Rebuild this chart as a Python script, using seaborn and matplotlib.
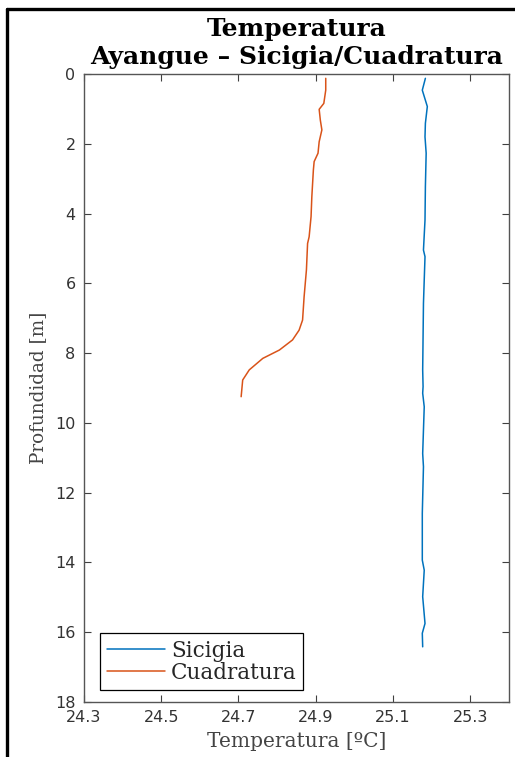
import numpy as np
import pandas as pd
import matplotlib
matplotlib.use("Agg")
import matplotlib.pyplot as plt
import seaborn as sns
from matplotlib.lines import Line2D

# Sicigia profile (depth [m], temperature [ºC])
sicigia_depth = [0.11, 0.45, 0.92, 1.40, 1.79, 2.26, 3.22, 4.18, 5.04, 5.23, 6.57,
                 8.48, 8.96, 9.15, 9.54, 10.88, 11.26, 12.60, 13.94, 14.23, 14.99,
                 15.76, 16.04, 16.43]
sicigia_temp = [25.184, 25.176, 25.189, 25.184, 25.183, 25.186, 25.184, 25.183, 25.179,
                25.183, 25.179, 25.177, 25.178, 25.177, 25.181, 25.177, 25.179, 25.176,
                25.176, 25.181, 25.177, 25.183, 25.176, 25.177]

# Cuadratura profile
cuadratura_depth = [0.11, 0.45, 0.83, 1.00, 1.31, 1.59, 1.93, 2.26, 2.50, 2.74, 3.51,
                    4.08, 4.66, 4.85, 5.61, 6.38, 7.05, 7.34, 7.62, 7.91, 8.15, 8.48,
                    8.77, 9.25]
cuadratura_temp = [24.926, 24.926, 24.921, 24.909, 24.912, 24.916, 24.909, 24.906, 24.896,
                   24.894, 24.890, 24.888, 24.883, 24.879, 24.876, 24.870, 24.866, 24.857,
                   24.840, 24.806, 24.763, 24.728, 24.711, 24.707]

x_ticks = [24.3, 24.5, 24.7, 24.9, 25.1, 25.3]
y_ticks = [0, 2, 4, 6, 8, 10, 12, 14, 16, 18]

df = pd.concat([
    pd.DataFrame({"Profundidad": sicigia_depth, "Temperatura": sicigia_temp, "Serie": "Sicigia"}),
    pd.DataFrame({"Profundidad": cuadratura_depth, "Temperatura": cuadratura_temp, "Serie": "Cuadratura"}),
])

sns.set_style("ticks")
plt.rcParams['font.family'] = ['DejaVu Sans']

fig = plt.figure(figsize=(5.15, 7.57), dpi=100)
ax = fig.add_axes([0.163, 0.0733, 0.825, 0.8283])

sns.lineplot(data=df, x="Temperatura", y="Profundidad", hue="Serie",
             palette={"Sicigia": "#0072BD", "Cuadratura": "#D95319"},
             sort=False, estimator=None, orient="y", lw=1.1, ax=ax)

# Axes (MATLAB-like box with inward ticks)
ax.set_xlim(24.3, 25.4)
ax.set_ylim(18, 0)
ax.set_xticks(x_ticks)
ax.set_yticks(y_ticks)
ax.set_xticklabels([f"{t:.1f}" for t in x_ticks])
ax.tick_params(direction="in", top=True, right=True, length=5, width=0.8,
               colors="#404040", labelsize=11.5, labelcolor="#333333")
ax.tick_params(axis="x", pad=6)
ax.tick_params(axis="y", pad=6)
for s in ax.spines.values():
    s.set_color("#555555")
    s.set_linewidth(1.0)

ax.set_xlabel("Temperatura [ºC]", family="DejaVu Serif", fontsize=14.5, color="#444444", labelpad=5)
ax.set_ylabel("Profundidad [m]", family="DejaVu Serif", fontsize=13.2, color="#444444", labelpad=6)
ax.set_title("Temperatura\nAyangue – Sicigia/Cuadratura", family="DejaVu Serif",
             fontweight="bold", fontsize=18, color="black", linespacing=1.2, pad=7.5)

leg = ax.legend(loc="lower left", bbox_to_anchor=(0.038, 0.018), borderaxespad=0,
                fancybox=False, edgecolor="black", framealpha=1, handlelength=2.7,
                handletextpad=0.3, borderpad=0.3, labelspacing=0.0,
                prop={"family": "DejaVu Serif", "size": 15.5})
leg.get_frame().set_linewidth(0.9)

# Screenshot frame on the left and top
fig.add_artist(Line2D([0.0136, 0.0136], [0, 0.988], color="black", lw=2.4, transform=fig.transFigure))
fig.add_artist(Line2D([0.0136, 1.0], [0.988, 0.988], color="black", lw=2.4, transform=fig.transFigure))

fig.savefig("out.png", dpi=100)
